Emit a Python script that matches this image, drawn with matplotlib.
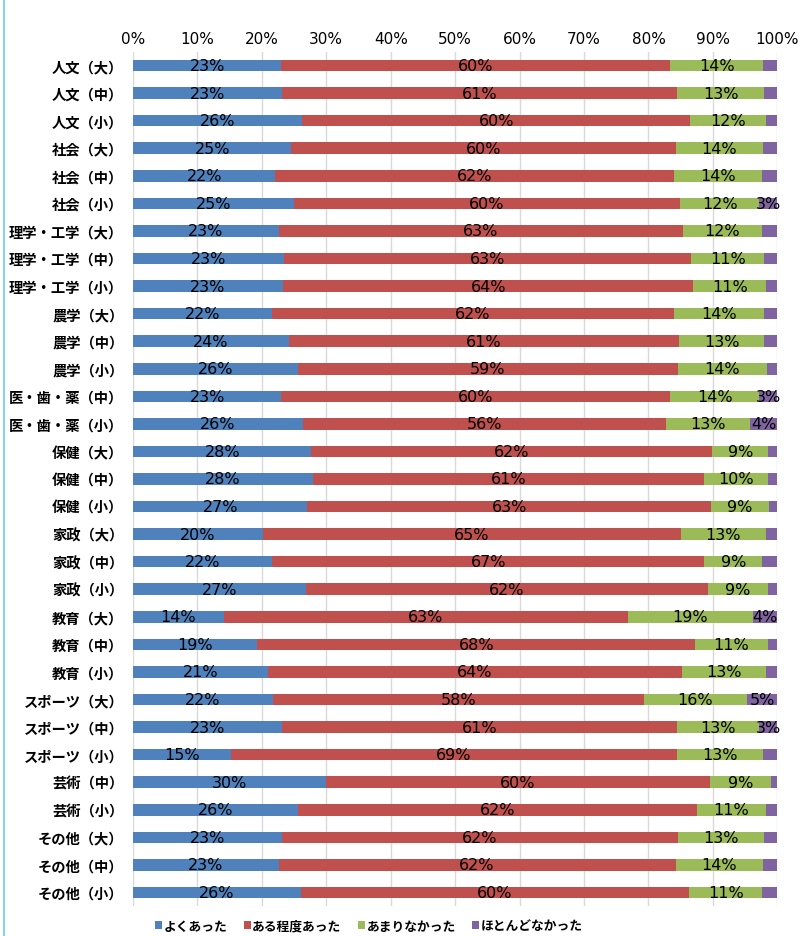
import matplotlib
matplotlib.use("Agg")
import matplotlib.pyplot as plt
import numpy as np
from matplotlib.lines import Line2D

plt.rcParams['font.family'] = ['DejaVu Sans', 'Noto Sans CJK JP']

categories = ["人文（大）", "人文（中）", "人文（小）", "社会（大）", "社会（中）", "社会（小）",
              "理学・工学（大）", "理学・工学（中）", "理学・工学（小）", "農学（大）", "農学（中）", "農学（小）",
              "医・歯・薬（中）", "医・歯・薬（小）", "保健（大）", "保健（中）", "保健（小）",
              "家政（大）", "家政（中）", "家政（小）", "教育（大）", "教育（中）", "教育（小）",
              "スポーツ（大）", "スポーツ（中）", "スポーツ（小）", "芸術（中）", "芸術（小）",
              "その他（大）", "その他（中）", "その他（小）"]

series_names = ["よくあった", "ある程度あった", "あまりなかった", "ほとんどなかった"]

often = [23.0, 23.2, 26.3, 24.6, 22.1, 25.0, 22.6, 23.4, 23.3, 21.6, 24.15, 25.55, 23.0, 26.4,
         27.7, 27.9, 27.05, 20.2, 21.6, 26.9, 14.1, 19.3, 20.9, 21.7, 23.1, 15.2, 29.9, 25.6,
         23.05, 22.6, 26.0]
somewhat = [60.4, 61.3, 60.2, 59.6, 61.9, 59.9, 62.7, 63.2, 63.67, 62.37, 60.65, 59.05, 60.4, 56.3,
            62.2, 60.8, 62.65, 64.8, 67.1, 62.3, 62.7, 68.0, 64.3, 57.6, 61.3, 69.2, 59.7, 61.9,
            61.55, 61.6, 60.3]
rarely = [14.4, 13.4, 11.75, 13.6, 13.6, 12.3, 12.4, 11.4, 11.33, 13.93, 13.1, 13.8, 13.8, 13.1,
          8.7, 9.8, 9.0, 13.2, 9.0, 9.4, 19.4, 11.2, 13.0, 16.0, 12.8, 13.4, 9.4, 10.7,
          13.3, 13.6, 11.4]
hardly = [2.2, 2.1, 1.75, 2.2, 2.4, 2.8, 2.3, 2.0, 1.7, 2.1, 2.1, 1.6, 2.8, 4.2,
          1.4, 1.5, 1.3, 1.8, 2.3, 1.4, 3.8, 1.5, 1.8, 4.7, 2.8, 2.2, 1.0, 1.8,
          2.1, 2.2, 2.3]

xticks = [0, 10, 20, 30, 40, 50, 60, 70, 80, 90, 100]
colors = ["#4f81bd", "#c0504d", "#9bbb59", "#8064a2"]

W, H = 801, 937
fig = plt.figure(figsize=(W / 100, H / 100), dpi=100)
ax = fig.add_axes([133 / W, 1 - 907.3 / H, (777.3 - 133) / W, (907.3 - 52.7) / H])

y = np.arange(len(categories))
left = np.zeros(len(categories))
data = [often, somewhat, rarely, hardly]
for vals, col, name in zip(data, colors, series_names):
    vals = np.array(vals)
    ax.barh(y, vals, left=left, height=0.42, color=col, label=name, zorder=3)
    for yi, (l, v) in enumerate(zip(left, vals)):
        r = int(round(v))
        if r >= 3:
            ax.text(l + v / 2, yi, f"{r}%", ha="center", va="center", fontsize=11.5,
                    color="black", zorder=4)
    left = left + vals

ax.set_xlim(0, 100)
ax.set_ylim(len(categories) - 0.5, -0.5)
ax.set_yticks(y)
ax.set_yticklabels(categories, fontsize=10.3, fontweight="bold",
                   family=['Noto Sans CJK JP', 'DejaVu Sans'])
ax.set_xticks(xticks)
ax.set_xticklabels([f"{t}%" for t in xticks], fontsize=11)
ax.xaxis.tick_top()
ax.tick_params(axis="x", length=0, pad=4)
ax.tick_params(axis="y", length=0, pad=7)
ax.grid(axis="x", color="#d9d9d9", linewidth=1, zorder=0)
for s in ax.spines.values():
    s.set_visible(False)

handles, labels = ax.get_legend_handles_labels()
leg = fig.legend(handles, labels, loc="center", bbox_to_anchor=(369 / W, 1 - 927 / H),
                 ncol=4, frameon=False, handlelength=0.55, handleheight=0.55,
                 handletextpad=0.1, columnspacing=1.3,
                 prop={'family': ['Noto Sans CJK JP', 'DejaVu Sans'], 'size': 9.2, 'weight': 'bold'})

fig.add_artist(Line2D([3.5 / W, 3.5 / W], [0, 1], transform=fig.transFigure,
                      color="#8dd0f0", linewidth=1.5))

fig.savefig("out.png", dpi=100)
